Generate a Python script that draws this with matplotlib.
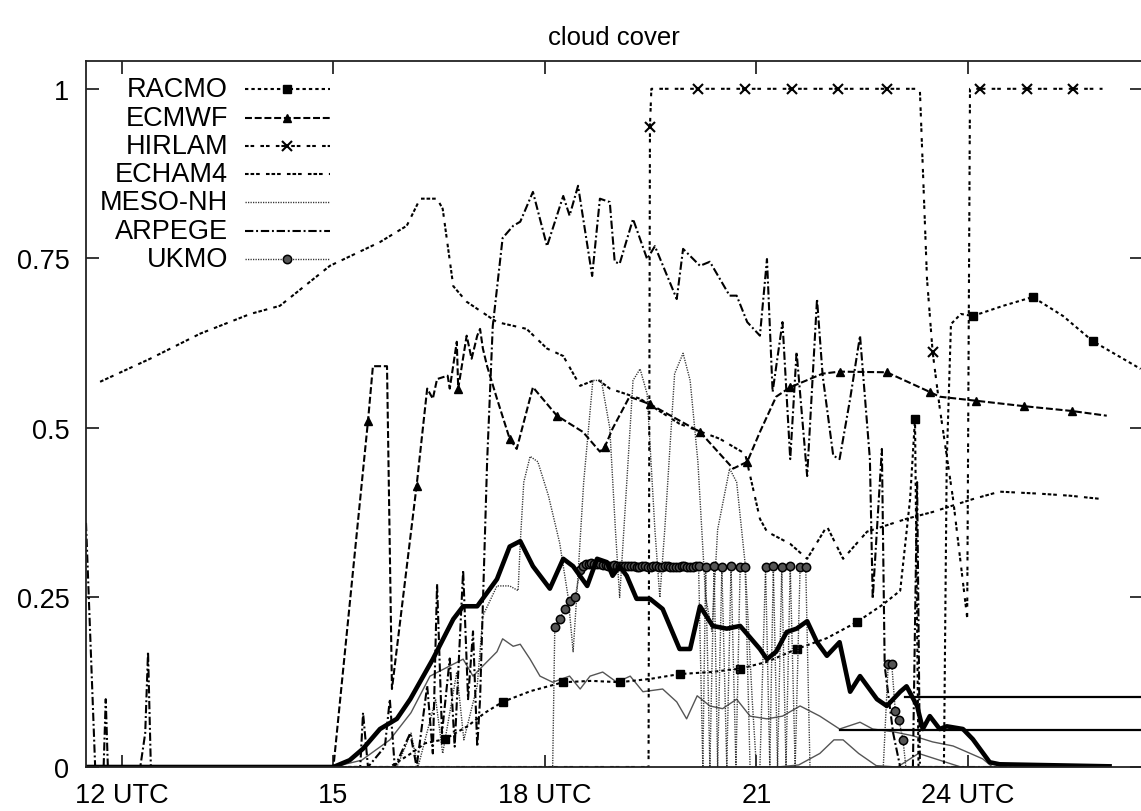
import matplotlib
matplotlib.use('Agg')
import matplotlib.pyplot as plt

plt.rcParams['font.family'] = ['Liberation Sans', 'DejaVu Sans']
plt.rcParams['lines.scale_dashes'] = False

# hours (UTC, 24 = midnight) and cloud cover fraction
racmo_h = [11.49, 15.80, 16.10, 16.30, 16.58, 16.90, 17.15, 17.40, 17.80, 18.26, 18.66, 19.06,
           19.50, 19.91, 20.35, 20.77, 21.15, 21.57, 22.00, 22.43, 22.80, 23.04, 23.18, 23.25,
           23.30, 23.66, 23.70, 23.76, 23.90, 24.07, 24.50, 24.92, 25.35, 25.77, 26.45]
racmo_v = [0, 0, 0.02, 0.035, 0.041, 0.06, 0.08, 0.096, 0.112, 0.125, 0.127, 0.125,
           0.13, 0.137, 0.14, 0.145, 0.155, 0.174, 0.19, 0.214, 0.24, 0.26, 0.395, 0.513,
           0.0, 0.0, 0.45, 0.653, 0.668, 0.665, 0.68, 0.693, 0.665, 0.628, 0.587]
racmo_marks = [4, 7, 9, 11, 13, 15, 17, 19, 23, 29, 31, 33]

ecmwf_h = [11.49, 15.0, 15.49, 15.56, 15.76, 15.83, 16.18, 16.33, 16.41, 16.47, 16.62, 16.65,
           16.75, 16.77, 16.89, 16.96, 17.04, 17.08, 17.12, 17.18, 17.32, 17.50, 17.60, 17.83,
           18.17, 18.54, 18.78, 18.85, 18.96, 19.20, 19.49, 20.20, 20.67, 20.87, 21.05, 21.28,
           21.48, 21.94, 22.18, 22.85, 23.46, 23.60, 24.12, 24.80, 25.47, 25.97]
ecmwf_v = [0, 0, 0.51, 0.591, 0.591, 0.115, 0.415, 0.558, 0.543, 0.572, 0.577, 0.558,
           0.627, 0.558, 0.636, 0.602, 0.636, 0.646, 0.617, 0.591, 0.543, 0.484, 0.469, 0.560,
           0.518, 0.494, 0.465, 0.472, 0.499, 0.546, 0.535, 0.494, 0.44, 0.45, 0.494, 0.546,
           0.560, 0.580, 0.583, 0.582, 0.553, 0.546, 0.540, 0.532, 0.525, 0.518]
ecmwf_marks = [2, 6, 13, 21, 24, 27, 30, 31, 33, 36, 38, 39, 40, 42, 43, 44]

hirlam_h = [11.49, 19.47, 19.49, 19.51, 20.17, 20.84, 21.50, 22.16, 22.85, 23.28, 23.32,
            23.42, 23.50, 23.60, 23.79, 23.99, 24.03, 24.17, 24.84, 25.49, 25.91]
hirlam_v = [0, 0, 0.944, 1.0, 1.0, 1.0, 1.0, 1.0, 1.0, 1.0, 0.996,
            0.72, 0.612, 0.53, 0.395, 0.22, 1.0, 1.0, 1.0, 1.0, 1.0]
hirlam_marks = [2, 4, 5, 6, 7, 8, 12, 17, 18, 19]

echam_h = [11.69, 12.40, 13.11, 13.82, 14.24, 14.95, 15.66, 16.04, 16.23, 16.47, 16.55, 16.70,
           16.89, 17.32, 17.74, 18.03, 18.26, 18.50, 18.74, 18.92, 19.35, 19.91, 20.48, 20.84,
           21.05, 21.15, 21.48, 21.72, 22.00, 22.23, 22.57, 23.13, 23.50, 24.07, 24.45, 25.02,
           25.45, 25.91]
echam_v = [0.568, 0.602, 0.639, 0.668, 0.680, 0.739, 0.774, 0.798, 0.838, 0.838, 0.823, 0.709,
           0.686, 0.656, 0.646, 0.617, 0.606, 0.562, 0.572, 0.558, 0.543, 0.506, 0.484, 0.462,
           0.366, 0.347, 0.329, 0.307, 0.355, 0.307, 0.347, 0.366, 0.376, 0.395, 0.406, 0.403,
           0.400, 0.395]

mesonh_h = [11.49, 15.90, 16.10, 16.20, 16.45, 16.55, 16.75, 16.85, 17.04, 17.12, 17.32, 17.50,
            17.62, 17.65, 17.70, 17.79, 17.90, 18.05, 18.21, 18.33, 18.40, 18.45, 18.55, 18.68,
            18.80, 18.92, 19.00, 19.06, 19.12, 19.25, 19.35, 19.45, 19.56, 19.63, 19.70, 19.84,
            19.96, 20.06, 20.17, 20.28, 20.37, 20.45, 20.62, 20.72, 20.84, 20.94, 21.00]
mesonh_v = [0, 0, 0.05, 0, 0.10, 0.02, 0.14, 0.04, 0.12, 0.223, 0.267, 0.267,
            0.26, 0.33, 0.42, 0.458, 0.45, 0.40, 0.33, 0.25, 0.17, 0.25, 0.42, 0.57,
            0.57, 0.50, 0.35, 0.25, 0.35, 0.57, 0.587, 0.55, 0.35, 0.25, 0.35, 0.58,
            0.61, 0.57, 0.45, 0.25, 0.20, 0.35, 0.44, 0.42, 0.30, 0.10, 0]

arpege_h = [11.49, 11.62, 11.74, 11.77, 11.80, 12.26, 12.33, 12.37, 12.41, 15.38, 15.42, 15.49,
            15.73, 15.80, 15.87, 16.09, 16.18, 16.33, 16.41, 16.47, 16.54, 16.65, 16.72, 16.84,
            16.91, 16.98, 17.04, 17.08, 17.18, 17.26, 17.40, 17.55, 17.65, 17.83, 18.03, 18.26,
            18.35, 18.47, 18.67, 18.78, 18.92, 18.99, 19.06, 19.25, 19.45, 19.56, 19.87, 19.96,
            20.20, 20.34, 20.62, 20.72, 20.87, 21.05, 21.15, 21.23, 21.37, 21.48, 21.57, 21.72,
            21.86, 21.94, 22.09, 22.18, 22.33, 22.47, 22.61, 22.65, 22.78, 22.82, 22.94, 23.04,
            23.22, 23.28, 23.32, 26.0]
arpege_v = [0.36, 0, 0, 0.10, 0, 0, 0.05, 0.17, 0, 0, 0.08, 0,
            0.03, 0.10, 0, 0.05, 0, 0.12, 0.02, 0.27, 0.05, 0.16, 0.03, 0.29,
            0.10, 0.20, 0.03, 0.10, 0.45, 0.650, 0.78, 0.798, 0.804, 0.848, 0.768, 0.842,
            0.813, 0.857, 0.724, 0.838, 0.833, 0.745, 0.742, 0.808, 0.749, 0.768, 0.690, 0.764,
            0.739, 0.745, 0.695, 0.695, 0.656, 0.636, 0.749, 0.553, 0.656, 0.454, 0.612, 0.429,
            0.690, 0.577, 0.459, 0.454, 0.543, 0.636, 0.454, 0.248, 0.469, 0.149, 0.05, 0.0,
            0.0, 0.42, 0.0, 0.0]

ukmo_h = [11.49, 18.11, 18.14, 18.21, 18.28, 18.35, 18.43, 18.50, 18.54, 18.58, 18.62, 18.66,
          18.70, 18.74, 18.78, 18.82, 18.86, 18.90, 18.94, 18.98, 19.02, 19.06, 19.10, 19.14,
          19.18, 19.22, 19.26, 19.30, 19.34, 19.38, 19.42, 19.46, 19.50, 19.54, 19.58, 19.62,
          19.66, 19.70, 19.74, 19.78, 19.82, 19.86, 19.90, 19.94, 19.98, 20.02, 20.06, 20.10,
          20.14, 20.18, 20.24, 20.28, 20.34, 20.40, 20.45, 20.51, 20.58, 20.64, 20.71, 20.77,
          20.84, 20.91, 21.05, 21.13, 21.19, 21.24, 21.30, 21.36, 21.42, 21.48, 21.55, 21.62,
          21.70, 21.76, 22.80, 22.87, 22.92, 22.97, 23.02, 23.08, 23.12, 26.0]
ukmo_v = [0, 0, 0.206, 0.218, 0.233, 0.245, 0.251, 0.29, 0.297, 0.299, 0.300, 0.301,
          0.300, 0.300, 0.299, 0.298, 0.298, 0.297, 0.297, 0.298, 0.297, 0.296, 0.296, 0.297,
          0.296, 0.296, 0.296, 0.295, 0.295, 0.296, 0.296, 0.295, 0.295, 0.296, 0.296, 0.295,
          0.295, 0.296, 0.296, 0.295, 0.295, 0.295, 0.295, 0.296, 0.296, 0.295, 0.295, 0.295,
          0.296, 0.296, 0, 0.295, 0, 0.296, 0, 0.295, 0, 0.296, 0, 0.295,
          0.295, 0, 0, 0.295, 0, 0.296, 0, 0.295, 0, 0.296, 0, 0.295,
          0.295, 0, 0, 0.152, 0.152, 0.083, 0.07, 0.04, 0, 0]

# unlabelled curves: thick observed line, two thin ones, two flat reference lines
obs_h = [11.49, 15.0, 15.23, 15.42, 15.66, 15.90, 16.09, 16.41, 16.70, 16.84, 17.04, 17.32,
         17.50, 17.65, 17.83, 18.07, 18.26, 18.40, 18.60, 18.74, 18.88, 18.96, 19.06, 19.16,
         19.30, 19.49, 19.67, 19.91, 20.06, 20.20, 20.38, 20.58, 20.77, 21.05, 21.15, 21.28,
         21.43, 21.57, 21.72, 21.86, 22.00, 22.18, 22.33, 22.47, 22.71, 22.85, 23.04, 23.13,
         23.28, 23.36, 23.46, 23.60, 23.70, 23.93, 24.07, 24.31, 24.45, 26.01]
obs_v = [0, 0, 0.01, 0.027, 0.056, 0.071, 0.10, 0.159, 0.218, 0.237, 0.237, 0.277,
         0.325, 0.333, 0.296, 0.263, 0.307, 0.296, 0.267, 0.307, 0.302, 0.282, 0.296, 0.282,
         0.248, 0.248, 0.233, 0.174, 0.174, 0.237, 0.208, 0.204, 0.208, 0.174, 0.159, 0.170,
         0.199, 0.204, 0.215, 0.184, 0.164, 0.184, 0.111, 0.134, 0.100, 0.090, 0.111, 0.119,
         0.090, 0.056, 0.075, 0.056, 0.060, 0.056, 0.041, 0.007, 0.004, 0.001]

thin_a_h = [15.0, 15.4, 15.8, 16.1, 16.37, 16.65, 16.84, 16.98, 17.12, 17.32, 17.40, 17.55,
            17.65, 17.79, 17.93, 18.11, 18.35, 18.50, 18.64, 18.82, 19.02, 19.21, 19.39, 19.67,
            19.87, 20.01, 20.16, 20.34, 20.52, 20.72, 20.91, 21.15, 21.37, 21.62, 21.90, 22.18,
            22.47, 22.65, 22.94, 23.22, 23.50, 23.79, 23.99, 24.21, 24.35]
thin_a_v = [0, 0.01, 0.04, 0.08, 0.134, 0.149, 0.159, 0.134, 0.149, 0.170, 0.189, 0.178,
            0.181, 0.159, 0.134, 0.125, 0.134, 0.115, 0.134, 0.140, 0.125, 0.134, 0.111, 0.115,
            0.096, 0.071, 0.105, 0.090, 0.086, 0.100, 0.075, 0.071, 0.075, 0.090, 0.075, 0.056,
            0.066, 0.056, 0.052, 0.046, 0.037, 0.031, 0.022, 0.012, 0.0]

thin_b_h = [21.0, 21.30, 21.60, 21.90, 22.10, 22.23, 22.45, 22.70, 23.00, 23.30, 23.60, 23.90, 24.10]
thin_b_v = [0, 0, 0.003, 0.02, 0.04, 0.04, 0.02, 0.002, 0, 0.02, 0.01, 0, 0]

flat_hi_h = [23.11, 26.47]
flat_hi_v = [0.103, 0.103]
flat_lo_h = [22.18, 26.47]
flat_lo_v = [0.055, 0.055]

x_ticks = [12, 15, 18, 21, 24]
x_labels = ['12 UTC', '15', '18 UTC', '21', '24 UTC']
y_ticks = [0, 0.25, 0.5, 0.75, 1]
y_labels = ['0', '0.25', '0.5', '0.75', '1']

styles = {
    'RACMO': dict(color='black', lw=1.5, ls=(0, (2.4, 2.2)), marker='s', ms=5.5),
    'ECMWF': dict(color='black', lw=1.5, ls=(0, (5.0, 2.0)), marker='^', ms=5.5),
    'HIRLAM': dict(color='black', lw=1.5, ls=(0, (2.6, 1.4, 2.6, 4.5)), marker='x', ms=6.5, mew=1.5),
    'ECHAM4': dict(color='black', lw=1.5, ls=(0, (2.6, 1.4, 2.6, 1.4, 2.6, 4.5))),
    'MESO-NH': dict(color='#333333', lw=1.0, ls=(0, (0.9, 0.9))),
    'ARPEGE': dict(color='black', lw=1.5, ls=(0, (6.0, 2.0, 1.4, 2.0))),
    'UKMO': dict(color='#333333', lw=1.0, ls=(0, (0.9, 0.9)), marker='o', ms=6,
                 mfc='#555555', mec='black', mew=1.1),
}

fig = plt.figure(figsize=(11.41, 8.12), dpi=100)
ax = fig.add_axes([86 / 1141, 44 / 812, 1056 / 1141, 706 / 812])

ax.plot(thin_a_h, thin_a_v, color='#555555', lw=1.0)
ax.plot(thin_b_h, thin_b_v, color='#555555', lw=1.0)
ax.plot(echam_h, echam_v, **styles['ECHAM4'])
ax.plot(mesonh_h, mesonh_v, **styles['MESO-NH'])
ax.plot(arpege_h, arpege_v, **styles['ARPEGE'])
ax.plot(ecmwf_h, ecmwf_v, markevery=ecmwf_marks, **styles['ECMWF'])
ax.plot(hirlam_h, hirlam_v, markevery=hirlam_marks, **styles['HIRLAM'])
ax.plot(racmo_h, racmo_v, markevery=racmo_marks, **styles['RACMO'])
ukmo_marks = [i for i, v in enumerate(ukmo_v) if v > 0]
ax.plot(ukmo_h, ukmo_v, markevery=ukmo_marks, **styles['UKMO'])
ax.plot(obs_h, obs_v, color='black', lw=3.3, solid_joinstyle='round')
ax.plot(flat_hi_h, flat_hi_v, color='black', lw=1.6)
ax.plot(flat_lo_h, flat_lo_v, color='black', lw=1.6)

ax.set_xlim(11.49, 26.47)
ax.set_ylim(0, 1.041)
ax.set_xticks(x_ticks)
ax.set_xticklabels(x_labels)
ax.set_yticks(y_ticks)
ax.set_yticklabels(y_labels)
ax.tick_params(direction='in', length=9, width=1.1, top=True, right=True, labelsize=19.5)
ax.tick_params(axis='x', pad=11)
ax.tick_params(axis='y', pad=12)
for sp in ax.spines.values():
    sp.set_linewidth(1.3)
    sp.set_color('#222222')
ax.set_title('cloud cover', fontsize=18.5, pad=12)

# key in the top left corner, names right-aligned before the line samples
for i, name in enumerate(styles):
    y = 0.960 - i * 0.0401
    ax.text(0.1345, y, name, transform=ax.transAxes, ha='right', va='center', fontsize=19.5)
    ax.plot([0.1506, 0.190, 0.2311], [y, y, y], transform=ax.transAxes, markevery=[1],
            clip_on=False, **styles[name])

fig.savefig('out.png', dpi=100)
